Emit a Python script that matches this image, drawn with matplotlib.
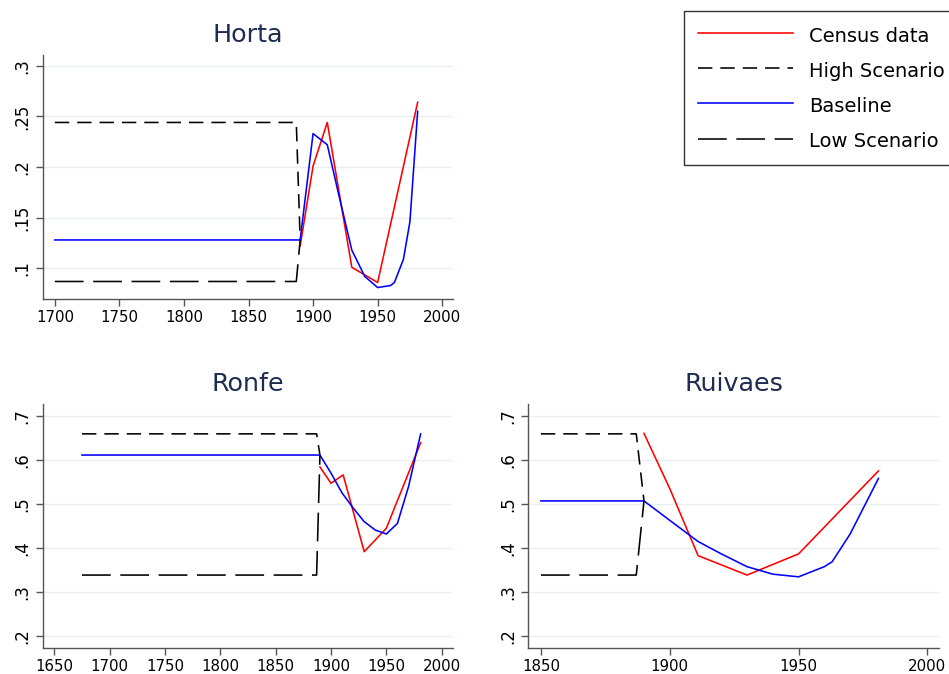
import matplotlib
matplotlib.use("Agg")
import matplotlib.pyplot as plt
from matplotlib.lines import Line2D

plt.rcParams['font.family'] = ['DejaVu Sans']

# ---------------- data ----------------
# Horta
horta_sc_years = [1700, 1887, 1890]
horta_high = [0.244, 0.244, 0.128]
horta_low = [0.087, 0.087, 0.128]
horta_base_years = [1700, 1890, 1900, 1911, 1920, 1930, 1940, 1950, 1960, 1963, 1970, 1975, 1981]
horta_base = [0.128, 0.128, 0.233, 0.222, 0.172, 0.118, 0.092, 0.081, 0.083, 0.086, 0.109, 0.146, 0.255]
horta_census_years = [1890, 1900, 1911, 1930, 1950, 1981]
horta_census = [0.122, 0.201, 0.244, 0.101, 0.086, 0.264]

# Ronfe
ronfe_sc_years = [1675, 1887, 1890]
ronfe_high = [0.659, 0.659, 0.611]
ronfe_low = [0.339, 0.339, 0.611]
ronfe_base_years = [1675, 1890, 1900, 1910, 1920, 1930, 1940, 1950, 1960, 1970, 1981]
ronfe_base = [0.611, 0.611, 0.570, 0.525, 0.491, 0.460, 0.441, 0.432, 0.456, 0.539, 0.659]
ronfe_census_years = [1890, 1900, 1911, 1930, 1950, 1981]
ronfe_census = [0.584, 0.547, 0.566, 0.392, 0.445, 0.639]

# Ruivaes
ruiv_sc_years = [1850, 1887, 1890]
ruiv_high = [0.659, 0.659, 0.507]
ruiv_low = [0.339, 0.339, 0.507]
ruiv_base_years = [1850, 1890, 1900, 1911, 1920, 1930, 1940, 1950, 1960, 1963, 1970, 1981]
ruiv_base = [0.507, 0.507, 0.463, 0.415, 0.387, 0.358, 0.341, 0.335, 0.358, 0.369, 0.432, 0.558]
ruiv_census_years = [1890, 1900, 1911, 1930, 1950, 1981]
ruiv_census = [0.660, 0.535, 0.383, 0.339, 0.387, 0.575]

titles = ["Horta", "Ronfe", "Ruivaes"]
legend_labels = ["Census data", "High Scenario", "Baseline", "Low Scenario"]

horta_yticks = [0.1, 0.15, 0.2, 0.25, 0.3]
horta_ylabels = [".1", ".15", ".2", ".25", ".3"]
low_yticks = [0.2, 0.3, 0.4, 0.5, 0.6, 0.7]
low_ylabels = [".2", ".3", ".4", ".5", ".6", ".7"]
horta_xticks = [1700, 1750, 1800, 1850, 1900, 1950, 2000]
ronfe_xticks = [1650, 1700, 1750, 1800, 1850, 1900, 1950, 2000]
ruiv_xticks = [1850, 1900, 1950, 2000]

# ---------------- style ----------------
W, H = 949, 674
fig = plt.figure(figsize=(W / 100, H / 100), dpi=100)

RED = '#ff0000'
BLUE = '#0000ff'
TITLE_C = '#1e2c52'
LW = 1.15
HIGH_LS = (0, (9.0, 5.0))
LOW_LS = (0, (18.0, 6.0))


def px_axes(x0, y0, x1, y1):
    return fig.add_axes([x0 / W, 1 - y1 / H, (x1 - x0) / W, (y1 - y0) / H])


def style(ax, title, xticks, yticks, ylabels, xlim, ylim):
    ax.set_xlim(*xlim)
    ax.set_ylim(*ylim)
    ax.set_xticks(xticks)
    ax.set_xticklabels([str(t) for t in xticks], fontsize=10.8)
    ax.set_yticks(yticks)
    ax.set_yticklabels(ylabels, fontsize=12, rotation=90, va='center')
    for s in ['top', 'right']:
        ax.spines[s].set_visible(False)
    for s in ['left', 'bottom']:
        ax.spines[s].set_color('#555555')
        ax.spines[s].set_linewidth(1.0)
    ax.tick_params(axis='both', length=5, width=1.0, color='#555555', pad=3)
    ax.grid(axis='y', color='#e8eff3', linewidth=1.0)
    ax.set_axisbelow(True)
    ax.set_title(title, fontsize=18.3, color=TITLE_C, pad=9.5)


def draw(ax, sc_years, high, low, base_years, base, cen_years, cen):
    ax.plot(cen_years, cen, color=RED, lw=LW)
    ax.plot(sc_years, high, color='black', lw=LW, linestyle=HIGH_LS)
    ax.plot(base_years, base, color=BLUE, lw=LW)
    ax.plot(sc_years, low, color='black', lw=LW, linestyle=LOW_LS)


ax1 = px_axes(42.7, 55, 453.3, 299)
draw(ax1, horta_sc_years, horta_high, horta_low, horta_base_years, horta_base,
     horta_census_years, horta_census)
style(ax1, titles[0], horta_xticks, horta_yticks, horta_ylabels,
      (1690.6, 2008.6), (0.0697, 0.3106))

ax2 = px_axes(42.7, 404.3, 453.3, 648.3)
draw(ax2, ronfe_sc_years, ronfe_high, ronfe_low, ronfe_base_years, ronfe_base,
     ronfe_census_years, ronfe_census)
style(ax2, titles[1], ronfe_xticks, low_yticks, low_ylabels,
      (1639.5, 2010.5), (0.173, 0.726))

ax3 = px_axes(528.3, 404.3, 939, 648.3)
draw(ax3, ruiv_sc_years, ruiv_high, ruiv_low, ruiv_base_years, ruiv_base,
     ruiv_census_years, ruiv_census)
style(ax3, titles[2], ruiv_xticks, low_yticks, low_ylabels,
      (1845.1, 2004.5), (0.173, 0.726))

handles = [
    Line2D([], [], color=RED, lw=LW),
    Line2D([], [], color='black', lw=LW, linestyle=HIGH_LS),
    Line2D([], [], color=BLUE, lw=LW),
    Line2D([], [], color='black', lw=LW, linestyle=LOW_LS),
]
leg = fig.legend(handles, legend_labels, loc='upper left',
                 bbox_to_anchor=(684 / W, 1 - 11 / H), fontsize=14,
                 frameon=True, fancybox=False, edgecolor='black',
                 handlelength=4.9, handleheight=1.28, handletextpad=0.82,
                 labelspacing=0.73, borderpad=0.7, borderaxespad=0)
leg.get_frame().set_linewidth(1.0)

fig.savefig('out.png', dpi=100)
